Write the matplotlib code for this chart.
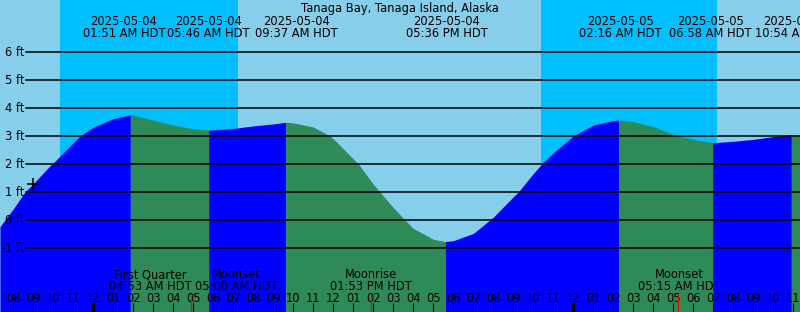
import matplotlib
matplotlib.use("Agg")
import matplotlib.pyplot as plt
import matplotlib.transforms as mtransforms
import numpy as np

# time axis: hours after 2025-05-04 00:00 HDT, height in ft
HOURS = [-4.667, -4.42, -4, -3.42, -3, -2.08, -2, -1, -0.67, 0, 1, 1.85, 2, 3, 4, 5,
         5.77, 6, 7, 8, 9, 9.62, 10, 11, 11.83, 12, 13, 13.25, 14, 14.33, 15, 15.58,
         16, 17, 17.6, 18, 19, 19.83, 20, 21, 21.25, 22, 22.42, 23, 24, 25, 26, 26.27,
         27, 28, 29, 30, 30.97, 32, 33, 34, 34.9, 35.333]
HEIGHT_FT = [-0.24, 0.0, 0.4, 1.0, 1.3, 2.0, 2.04, 2.76, 3.0, 3.31, 3.62, 3.75, 3.74,
             3.57, 3.39, 3.26, 3.21, 3.22, 3.27, 3.36, 3.43, 3.49, 3.47, 3.32, 3.0,
             2.9, 2.18, 2.0, 1.28, 1.0, 0.44, 0.0, -0.3, -0.69, -0.77, -0.74, -0.48,
             0.0, 0.1, 0.83, 1.0, 1.66, 2.0, 2.4, 3.0, 3.39, 3.55, 3.57, 3.52, 3.33,
             3.06, 2.88, 2.76, 2.81, 2.88, 2.98, 3.05, 3.04]

# high/low tides
TIDE_HOURS = [1.85, 5.77, 9.62, 17.6, 26.27, 30.97, 34.9]
TIDE_DATES = ["2025-05-04", "2025-05-04", "2025-05-04", "2025-05-04",
              "2025-05-05", "2025-05-05", "2025-05-05"]
TIDE_TIMES = ["01:51 AM HDT", "05:46 AM HDT", "09:37 AM HDT", "05:36 PM HDT",
              "02:16 AM HDT", "06:58 AM HDT", "10:54 AM HDT"]

# night (sunset -> sunrise)
NIGHTS = [(-1.667, 7.233), (22.39, 31.19)]

# moon events
MOON_HOURS = [4.88, 5.0, 13.88, 29.25]
MOON_NAMES = ["First Quarter", "Moonset", "Moonrise", "Moonset"]
MOON_TIMES = ["04:53 AM HDT", "05:00 AM HDT", "01:53 PM HDT", "05:15 AM HDT"]

MARK_HOUR = -3
GRID_FT = [-1, 0, 1, 2, 3, 4, 5, 6]
TITLE = "Tanaga Bay, Tanaga Island, Alaska"

SKY = "#87CEEB"
NIGHT = "#00BFFF"
RISE = "#0000FF"
FALL = "#2E8B57"

W, H = 800, 312
FS = 8.3

fig = plt.figure(figsize=(W / 100, H / 100), dpi=100)
ax = fig.add_axes([0, 0, 1, 1])
ax.set_axis_off()
ax.set_xlim(-4.667, 35.333)
ybot = (220 - H) / 28
ax.set_ylim(ybot, 220 / 28)
ax.add_patch(plt.Rectangle((0, 0), 1, 1, transform=ax.transAxes, color=SKY, zorder=0))

for a, b in NIGHTS:
    ax.axvspan(a, b, color=NIGHT, lw=0, zorder=1)

# fill tide curve, blue while rising, green while falling
t = np.array(HOURS)
h = np.array(HEIGHT_FT)
bounds = [t[0]] + TIDE_HOURS + [t[-1]]
for a, b in zip(bounds[:-1], bounds[1:]):
    m = (t >= a - 1e-6) & (t <= b + 1e-6)
    seg_t, seg_h = t[m], h[m]
    col = RISE if seg_h[-1] > seg_h[0] else FALL
    ax.fill_between(seg_t, seg_h, ybot, color=col, lw=0, zorder=2)

ylab_tr = mtransforms.blended_transform_factory(ax.transAxes, ax.transData)
for y in GRID_FT:
    ax.axhline(y, xmin=26 / W, xmax=1, color="black", lw=1.1, zorder=3)
    ax.text(24.5 / W, y, f"{y} ft", transform=ylab_tr, ha="right", va="center",
            fontsize=FS, zorder=4)

ax.plot([MARK_HOUR], [np.interp(MARK_HOUR, t, h)], marker="+", color="black",
        ms=9, mew=1.1, zorder=4)

tr = mtransforms.blended_transform_factory(ax.transData, ax.transAxes)


def fy(py):
    return 1 - py / H


# labels on top
ax.text(0.5, fy(11.7), TITLE, transform=ax.transAxes, ha="center", va="baseline",
        fontsize=FS, zorder=5)
top_shift = [-6.5, 0, 11, 1.4, 2, -2.6, 5]
for x, d, s, dx in zip(TIDE_HOURS, TIDE_DATES, TIDE_TIMES, top_shift):
    ax.text(x + dx / 20, fy(25), d, transform=tr, ha="center", va="baseline", fontsize=FS, zorder=5)
    ax.text(x + dx / 20, fy(36.7), s, transform=tr, ha="center", va="baseline", fontsize=FS, zorder=5)

# moon events at bottom
moon_shift = [-41, 43, 0, 0.7]
for x, n, s, dx in zip(MOON_HOURS, MOON_NAMES, MOON_TIMES, moon_shift):
    ax.text(x + dx / 20, fy(278), n, transform=tr, ha="center", va="baseline", fontsize=FS, zorder=5)
    ax.text(x + dx / 20, fy(289.5), s, transform=tr, ha="center", va="baseline", fontsize=FS, zorder=5)
    ax.plot([x, x], [0, 18 / H], transform=tr, color="red", lw=0.8, zorder=6)

# hour ticks
for hr in range(-4, 36):
    lab = f"{(hr % 24) % 12 or 12:02d}"
    ax.text(hr, fy(301.5), lab, transform=tr, ha="center", va="baseline", fontsize=FS, zorder=5)
    lw = 2.3 if hr % 24 == 0 else 0.8
    ax.plot([hr, hr], [0, 9 / H], transform=tr, color="black", lw=lw, zorder=6,
            solid_capstyle="butt")

fig.savefig("out.png", dpi=100)
